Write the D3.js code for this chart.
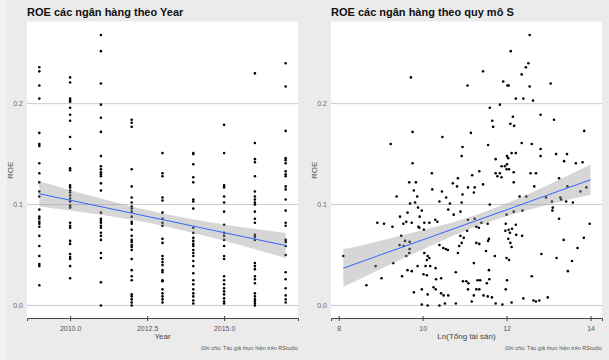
<!DOCTYPE html>
<html><head><meta charset="utf-8">
<script src="https://cdn.jsdelivr.net/npm/d3@7"></script>
<style>body{margin:0;background:#ebebeb;} svg{display:block;}</style>
</head><body>
<svg id="c" width="609" height="360"></svg>
<script>
// ---------- DATA ----------
const years = [2009, 2010, 2011, 2012, 2013, 2014, 2015, 2016, 2017];
const roe2009 = [0.236,0.232,0.218,0.205,0.171,0.160,0.158,0.141,0.131,0.122,0.113,0.108,0.095,0.088,0.086,0.083,0.081,0.078,0.069,0.059,0.049,0.041,0.039,0.020];
const roe2010 = [0.226,0.221,0.205,0.203,0.202,0.196,0.189,0.183,0.167,0.155,0.136,0.134,0.119,0.117,0.114,0.112,0.109,0.106,0.103,0.099,0.097,0.082,0.079,0.077,0.064,0.061,0.051,0.048,0.046,0.039,0.027];
const roe2011 = [0.268,0.252,0.220,0.199,0.186,0.172,0.148,0.138,0.135,0.132,0.130,0.128,0.121,0.114,0.092,0.086,0.084,0.082,0.079,0.077,0.072,0.069,0.065,0.052,0.047,0.023,0.000];
const roe2012 = [0.184,0.181,0.177,0.135,0.118,0.107,0.102,0.098,0.096,0.093,0.088,0.083,0.081,0.075,0.069,0.065,0.063,0.060,0.058,0.055,0.046,0.035,0.029,0.025,0.011,0.009,0.006,0.003,0.000];
const roe2013 = [0.151,0.131,0.128,0.107,0.104,0.092,0.086,0.082,0.079,0.066,0.062,0.049,0.046,0.043,0.040,0.035,0.033,0.025,0.024,0.016,0.012,0.009,0.006,0.003];
const roe2014 = [0.151,0.150,0.140,0.127,0.122,0.105,0.103,0.096,0.077,0.072,0.067,0.064,0.061,0.059,0.055,0.052,0.049,0.044,0.039,0.032,0.025,0.021,0.016,0.012,0.009,0.005,0.002];
const roe2015 = [0.179,0.151,0.119,0.117,0.108,0.102,0.093,0.080,0.072,0.069,0.065,0.059,0.049,0.046,0.029,0.025,0.021,0.017,0.014,0.011,0.007,0.004,0.002];
const roe2016 = [0.230,0.161,0.145,0.142,0.128,0.113,0.108,0.105,0.102,0.100,0.093,0.086,0.082,0.070,0.068,0.065,0.042,0.039,0.036,0.029,0.026,0.022,0.012,0.009,0.006,0.004,0.002,0.000];
const roe2017 = [0.240,0.217,0.173,0.146,0.144,0.141,0.133,0.130,0.128,0.118,0.115,0.105,0.094,0.082,0.079,0.065,0.063,0.059,0.050,0.033,0.026,0.017,0.010,0.006,0.003];
const roeByYear = [roe2009, roe2010, roe2011, roe2012, roe2013, roe2014, roe2015, roe2016, roe2017];

// [Ln(total assets), ROE]
const sizePoints = [
[9.72,0.226],[9.76,0.172],[9.24,0.160],[9.76,0.141],[9.68,0.122],[9.84,0.122],[9.79,0.114],[9.38,0.108],[9.87,0.108],[9.70,0.101],[9.82,0.102],[9.89,0.097],[9.64,0.092],[9.46,0.088],[8.92,0.082],[9.08,0.081],[9.28,0.078],[9.54,0.081],[9.61,0.083],[9.74,0.082],[9.92,0.077],[9.49,0.069],[9.58,0.064],[9.69,0.063],[9.45,0.060],[9.55,0.059],[9.69,0.056],[9.68,0.052],[9.61,0.049],[8.11,0.049],[8.88,0.039],[9.30,0.042],[9.64,0.035],[9.74,0.034],[9.51,0.029],[9.88,0.039],[9.02,0.027],[8.66,0.020],[9.79,0.013],
[11.44,0.232],[11.07,0.218],[11.92,0.222],[12.02,0.218],[11.60,0.196],[11.84,0.199],[11.66,0.183],[11.68,0.177],[10.47,0.167],[11.15,0.171],[10.95,0.157],[10.93,0.148],[11.56,0.159],[11.74,0.145],[11.88,0.138],[11.96,0.138],[12.04,0.146],[12.00,0.135],[11.84,0.131],[11.74,0.131],[11.78,0.128],[11.88,0.127],[10.22,0.131],[11.35,0.133],[10.84,0.126],[11.18,0.129],[10.72,0.121],[10.82,0.118],[10.23,0.115],[10.46,0.113],[11.08,0.117],[11.24,0.117],[11.44,0.120],[11.22,0.112],[10.95,0.110],[10.56,0.107],[10.40,0.103],[10.93,0.102],[10.65,0.101],[11.60,0.100],[10.61,0.095],[9.98,0.094],[10.90,0.093],[9.93,0.088],[10.74,0.090],[11.08,0.085],[11.24,0.086],[10.30,0.085],[10.35,0.083],[10.16,0.082],[10.04,0.082],[9.90,0.078],[11.40,0.082],[11.55,0.081],[11.98,0.081],[12.00,0.090],[11.28,0.078],[11.34,0.077],[10.03,0.075],[11.06,0.074],[11.97,0.074],[10.90,0.069],[10.98,0.067],[11.58,0.066],[11.56,0.064],[11.28,0.062],[11.35,0.061],[10.40,0.060],[10.49,0.057],[10.55,0.056],[10.60,0.055],[10.87,0.059],[10.93,0.062],[10.84,0.052],[11.51,0.054],[11.72,0.049],[12.00,0.047],[10.04,0.052],[10.12,0.049],[10.16,0.047],[10.10,0.045],[10.18,0.039],[10.07,0.039],[10.02,0.031],[10.10,0.030],[10.31,0.037],[10.44,0.027],[10.32,0.026],[10.79,0.033],[11.22,0.042],[11.58,0.035],[11.04,0.024],[10.96,0.024],[11.09,0.022],[11.31,0.025],[11.37,0.025],[11.53,0.022],[11.59,0.026],[10.26,0.018],[10.31,0.016],[9.98,0.016],[11.08,0.016],[11.28,0.016],[11.35,0.016],[11.98,0.016],[10.44,0.012],[10.50,0.010],[10.61,0.010],[10.12,0.011],[11.22,0.010],[11.45,0.010],[11.55,0.009],[11.65,0.008],[11.17,0.004],[11.74,0.002],[11.90,0.001],[10.79,0.002],[10.53,0.002],[9.98,0.001],[10.12,0.000],[10.40,0.000],
[12.55,0.268],[12.10,0.252],[12.52,0.240],[12.46,0.236],[12.36,0.229],[12.05,0.218],[12.55,0.217],[13.05,0.220],[12.22,0.205],[12.40,0.205],[12.63,0.203],[12.15,0.187],[12.09,0.180],[12.18,0.178],[12.81,0.189],[13.13,0.184],[13.85,0.173],[12.36,0.161],[12.60,0.160],[12.81,0.155],[12.81,0.148],[12.12,0.151],[12.22,0.151],[12.01,0.148],[12.01,0.140],[12.06,0.135],[12.17,0.132],[12.57,0.131],[12.70,0.131],[13.18,0.150],[13.44,0.150],[13.37,0.143],[13.65,0.141],[13.81,0.142],[12.17,0.122],[13.25,0.126],[12.66,0.118],[13.45,0.118],[13.76,0.113],[13.90,0.117],[12.31,0.108],[12.47,0.108],[12.94,0.107],[13.08,0.103],[13.28,0.107],[13.30,0.105],[13.42,0.103],[13.58,0.102],[12.17,0.093],[12.38,0.094],[13.10,0.097],[13.09,0.094],[13.25,0.086],[13.98,0.081],[12.05,0.075],[12.13,0.076],[12.08,0.072],[12.22,0.080],[12.23,0.070],[12.37,0.069],[12.04,0.066],[12.09,0.062],[12.12,0.058],[13.36,0.065],[13.84,0.067],[13.69,0.057],[12.83,0.051],[13.19,0.047],[13.56,0.044],[12.06,0.045],[13.46,0.034],[12.60,0.029],[12.01,0.025],[12.40,0.007],[12.64,0.005],[12.70,0.004],[12.78,0.005],[12.98,0.008],[12.12,0.003]
];

// Linear smooth (geom_smooth, method = "lm"): fitted value and 95% band
const smoothYearX  = [2009, 2011, 2013, 2015, 2017];
const smoothYearFit = [0.1107, 0.0979, 0.0851, 0.0722, 0.0594];
const smoothYearLo  = [0.0982, 0.0898, 0.0791, 0.0641, 0.0469];
const smoothYearHi  = [0.1232, 0.1060, 0.0911, 0.0803, 0.0719];

const smoothSizeX   = [8.11, 9.0, 10.0, 11.0, 12.0, 13.0, 14.0];
const smoothSizeFit = [0.0369, 0.0502, 0.0650, 0.0799, 0.0948, 0.1097, 0.1246];
const smoothSizeLo  = [0.0182, 0.0362, 0.0555, 0.0739, 0.0883, 0.0997, 0.1096];
const smoothSizeHi  = [0.0556, 0.0642, 0.0745, 0.0859, 0.1013, 0.1197, 0.1396];

const yTicks = [0, 0.1, 0.2];
const yTickLabels = ["0.0", "0.1", "0.2"];
const xTicksYear = [2010, 2012.5, 2015];
const xTickLabelsYear = ["2010.0", "2012.5", "2015.0"];
const xTicksSize = [8, 10, 12, 14];
const xTickLabelsSize = ["8", "10", "12", "14"];
const titles = ["ROE các ngân hàng theo Year", "ROE các ngân hàng theo quy mô S"];
const xTitles = ["Year", "Ln(Tổng tài sản)"];
const yTitle = "ROE";
const caption = "Ghi chú: Tác giả thực hiện trên RStudio";

// ---------- HELPERS ----------
const FONT = "'Liberation Sans', Arial, sans-serif";
const svg = d3.select("#c");

function expand(ext) { const d = ext[1] - ext[0]; return [ext[0] - 0.05 * d, ext[1] + 0.05 * d]; }

function panel(cfg) {
  const g = svg.append("g");
  const xs = d3.scaleLinear().domain(expand(d3.extent(cfg.pts, d => d[0]))).range([cfg.left, cfg.right]);
  const ys = d3.scaleLinear().domain(expand(d3.extent(cfg.pts, d => d[1]))).range([cfg.bottom, cfg.top]);

  g.append("rect").attr("x", cfg.left).attr("y", cfg.top)
    .attr("width", cfg.right - cfg.left).attr("height", cfg.bottom - cfg.top).attr("fill", "#ffffff");

  g.selectAll(".grid").data(yTicks).enter().append("line")
    .attr("x1", cfg.left).attr("x2", cfg.right)
    .attr("y1", d => ys(d)).attr("y2", d => ys(d))
    .attr("stroke", "#cccccc").attr("stroke-width", 1);

  g.selectAll(".pt").data(cfg.pts).enter().append("circle")
    .attr("cx", d => xs(d[0])).attr("cy", d => ys(d[1])).attr("r", 1.3).attr("fill", "#000");

  const sm = cfg.smX.map((x, i) => ({x, f: cfg.smFit[i], lo: cfg.smLo[i], hi: cfg.smHi[i]}));
  g.append("path").datum(sm)
    .attr("d", d3.area().curve(d3.curveMonotoneX).x(d => xs(d.x)).y0(d => ys(d.lo)).y1(d => ys(d.hi)))
    .attr("fill", "#999999").attr("fill-opacity", 0.4);
  g.append("path").datum(sm)
    .attr("d", d3.line().x(d => xs(d.x)).y(d => ys(d.f)))
    .attr("fill", "none").attr("stroke", "#3366FF").attr("stroke-width", 1);

  const ax = d3.axisBottom(xs).tickValues(cfg.xTicks).tickFormat((d, i) => cfg.xLabels[i]).tickSizeOuter(0).tickSize(3).tickPadding(5);
  const axg = g.append("g").attr("transform", `translate(0,${cfg.bottom - 1})`).call(ax);
  axg.select(".domain").attr("stroke", "#444").attr("stroke-width", 1);
  axg.selectAll(".tick line").attr("stroke", "#444").attr("y1", -2);
  axg.selectAll(".tick text").attr("fill", "#555").style("font-family", FONT).style("font-size", "7px");

  g.selectAll(".yl").data(yTicks).enter().append("text")
    .attr("x", cfg.left - 4).attr("y", d => ys(d)).attr("dy", "0.35em")
    .attr("text-anchor", "end").attr("fill", "#666").style("font-family", FONT).style("font-size", "7px")
    .text((d, i) => yTickLabels[i]);

  g.append("text").attr("transform", `translate(${cfg.left - 14},${(cfg.top + cfg.bottom) / 2}) rotate(-90)`)
    .attr("text-anchor", "middle").attr("fill", "#555").style("font-family", FONT).style("font-size", "8px").text(yTitle);

  g.append("text").attr("x", (cfg.left + cfg.right) / 2).attr("y", cfg.bottom + 20)
    .attr("text-anchor", "middle").attr("fill", "#444").style("font-family", FONT).style("font-size", "8px").text(cfg.xTitle);

  g.append("text").attr("x", cfg.left).attr("y", 16)
    .attr("fill", "#111").style("font-family", FONT).style("font-size", "11px").style("font-weight", "bold").text(cfg.title);

  g.append("text").attr("x", cfg.right).attr("y", 350)
    .attr("text-anchor", "end").attr("fill", "#555").style("font-family", FONT).style("font-size", "6px")
    .attr("textLength", 97).attr("lengthAdjust", "spacingAndGlyphs").text(caption);
}

svg.append("rect").attr("x", 0).attr("y", 0).attr("width", 609).attr("height", 360).attr("fill", "#ebebeb");
svg.append("rect").attr("x", 0).attr("y", 0).attr("width", 7).attr("height", 360).attr("fill", "#f1f1f1");

const yearPts = [];
years.forEach((yr, i) => roeByYear[i].forEach(v => yearPts.push([yr, v])));

panel({pts: yearPts, left: 27, right: 298, top: 21.5, bottom: 319, xTicks: xTicksYear, xLabels: xTickLabelsYear, xTitle: xTitles[0], title: titles[0],
       smX: smoothYearX, smFit: smoothYearFit, smLo: smoothYearLo, smHi: smoothYearHi});
panel({pts: sizePoints, left: 331, right: 602, top: 21.5, bottom: 319, xTicks: xTicksSize, xLabels: xTickLabelsSize, xTitle: xTitles[1], title: titles[1],
       smX: smoothSizeX, smFit: smoothSizeFit, smLo: smoothSizeLo, smHi: smoothSizeHi});
</script>
</body></html>
